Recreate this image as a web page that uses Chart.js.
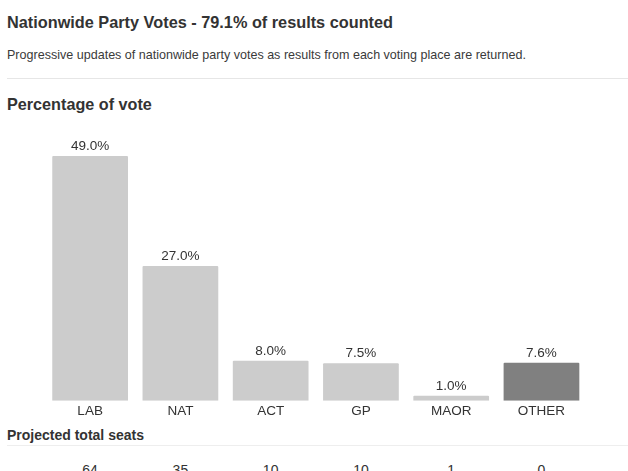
<!DOCTYPE html>
<html>
<head>
<meta charset="utf-8">
<script src="https://cdn.jsdelivr.net/npm/chart.js@4.4.1/dist/chart.umd.min.js"></script>
<style>
  html, body { margin: 0; padding: 0; background: #fff; width: 628px; height: 471px; overflow: hidden; }
  body { position: relative; font-family: "Liberation Sans", Arial, sans-serif; color: #333; }
  .t { position: absolute; left: 7px; white-space: nowrap; line-height: 1; }
  #title { top: 14.3px; font-size: 16.3px; font-weight: bold; }
  #sub { top: 49.4px; font-size: 12.55px; color: #3a3a3a; }
  #h1 { top: 96.4px; font-size: 16.2px; font-weight: bold; }
  #h2 { top: 428px; font-size: 14px; font-weight: bold; }
  .rule { position: absolute; left: 7px; right: 0; height: 1px; }
  #r1 { top: 78px; background: #e6e6e6; }
  #r2 { top: 445px; background: #eeeeee; }
  #wrap { position: absolute; left: 0; top: 120px; width: 628px; height: 301px; }
  .seat { position: absolute; top: 463px; font-size: 14px; line-height: 1; color: #333; transform: translateX(-50%); white-space: nowrap; }
</style>
</head>
<body>
<div class="t" id="title">Nationwide Party Votes - 79.1% of results counted</div>
<div class="t" id="sub">Progressive updates of nationwide party votes as results from each voting place are returned.</div>
<div class="rule" id="r1"></div>
<div class="t" id="h1">Percentage of vote</div>
<div id="wrap"><canvas id="c"></canvas></div>
<div class="t" id="h2">Projected total seats</div>
<div class="rule" id="r2"></div>
<div id="seats"></div>
<script>
const parties = ["LAB", "NAT", "ACT", "GP", "MAOR", "OTHER"];
const votePct = [49.0, 27.0, 8.0, 7.5, 1.0, 7.6];
const seats = [64, 35, 10, 10, 1, 0];
const barColors = ["#cccccc", "#cccccc", "#cccccc", "#cccccc", "#cccccc", "#808080"];

const FONT = '"Liberation Sans", Arial, sans-serif';

const valueLabels = {
  id: 'valueLabels',
  afterDatasetsDraw(chart) {
    const ctx = chart.ctx;
    const meta = chart.getDatasetMeta(0);
    ctx.save();
    ctx.font = '13.5px ' + FONT;
    ctx.fillStyle = '#333';
    ctx.textAlign = 'center';
    ctx.textBaseline = 'alphabetic';
    meta.data.forEach((bar, i) => {
      ctx.fillText(votePct[i].toFixed(1) + '%', bar.x, bar.y - 6);
    });
    ctx.restore();
  }
};

const seatRow = {
  id: 'seatRow',
  afterRender(chart) {
    const box = document.getElementById('seats');
    if (box.childElementCount) return;
    const xs = chart.scales.x;
    seats.forEach((s, i) => {
      const d = document.createElement('div');
      d.className = 'seat';
      d.style.left = xs.getPixelForValue(i) + 'px';
      d.textContent = s;
      box.appendChild(d);
    });
  }
};

new Chart(document.getElementById('c'), {
  type: 'bar',
  data: {
    labels: parties,
    datasets: [{
      data: votePct,
      backgroundColor: barColors,
      borderWidth: 0,
      borderRadius: 1,
      barPercentage: 0.839,
      categoryPercentage: 1.0
    }]
  },
  options: {
    responsive: true,
    maintainAspectRatio: false,
    animation: false,
    devicePixelRatio: 1,
    layout: { padding: { top: 31, left: 45, right: 41.4, bottom: 0 } },
    plugins: { legend: { display: false }, tooltip: { enabled: false } },
    scales: {
      x: {
        grid: { display: false, drawTicks: false },
        border: { display: false },
        ticks: { color: '#333', font: { family: FONT, size: 13.5 }, padding: 2 }
      },
      y: {
        display: false,
        min: 0,
        max: 50
      }
    }
  },
  plugins: [valueLabels, seatRow]
});
</script>
</body>
</html>
